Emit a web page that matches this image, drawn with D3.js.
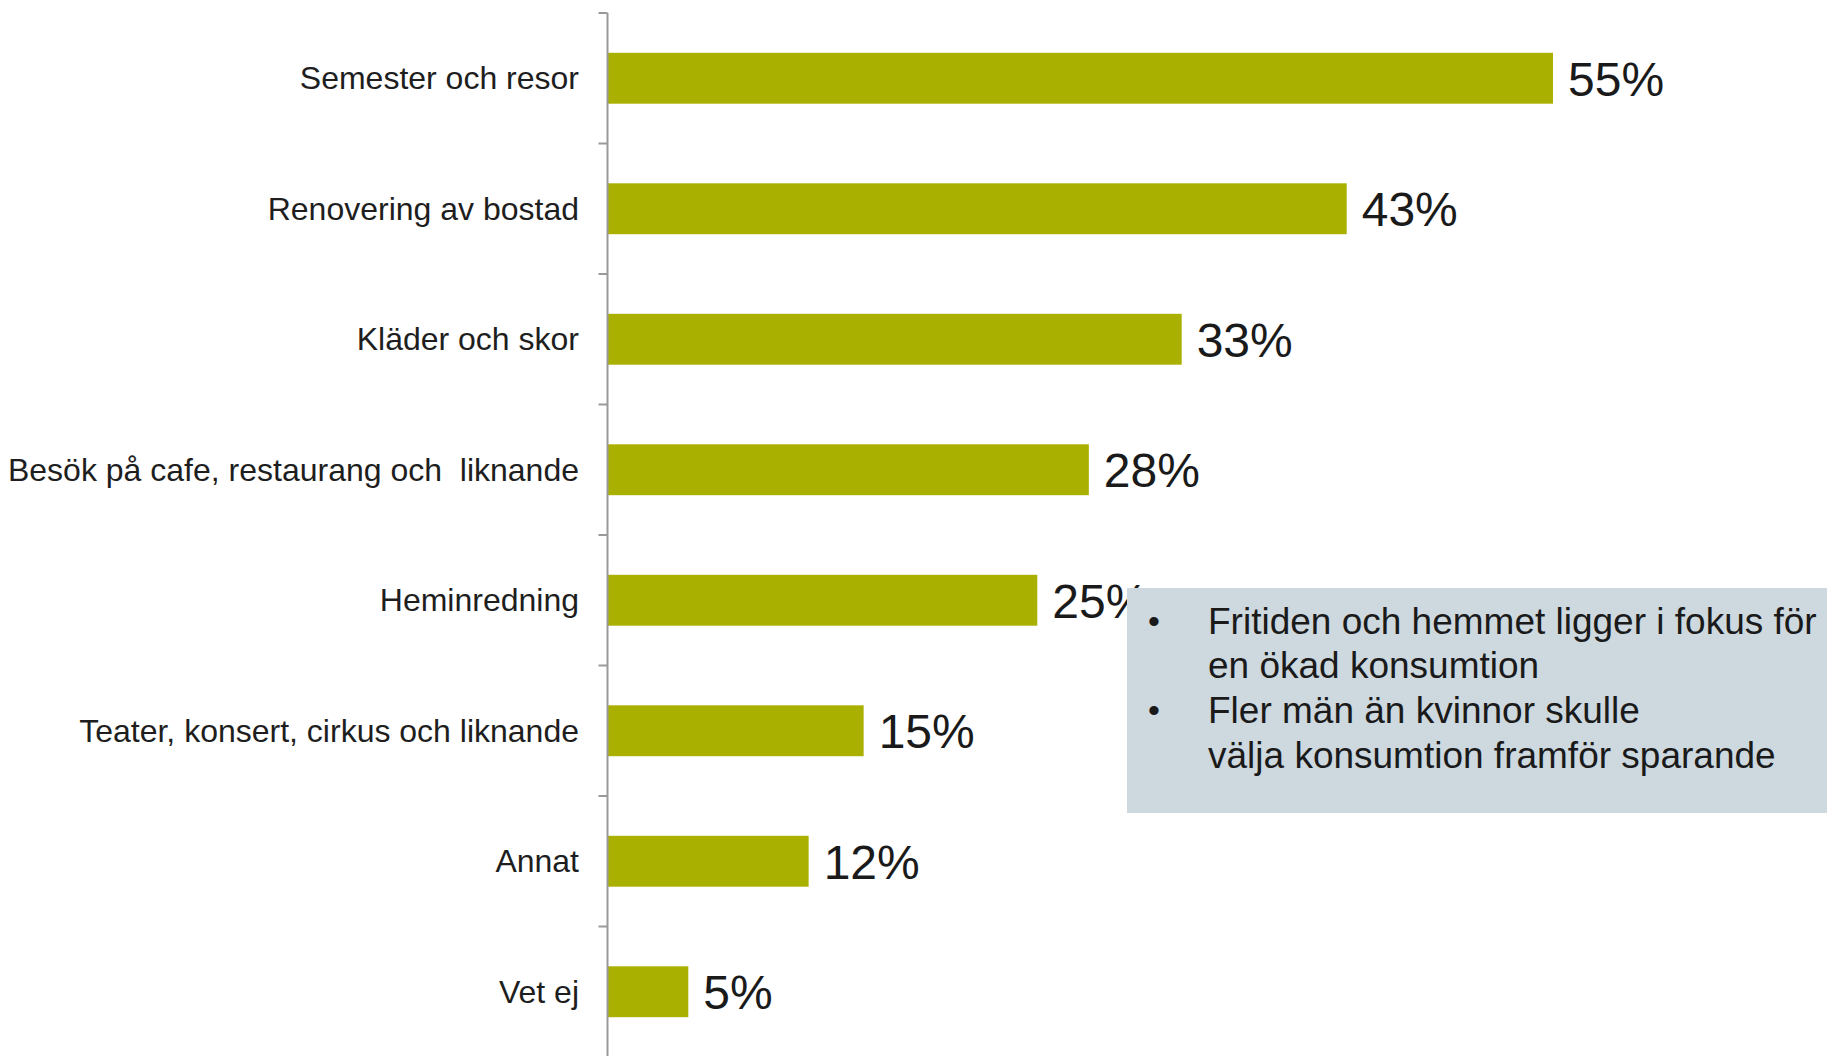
<!DOCTYPE html>
<html><head><meta charset="utf-8">
<script src="https://cdn.jsdelivr.net/npm/d3@7"></script>
<style>html,body{margin:0;padding:0;background:#fff;}svg{display:block;}</style>
</head><body>
<svg id="chart" width="1827" height="1056"></svg>
<script>
const categories = ["Semester och resor","Renovering av bostad","Kläder och skor","Besök på cafe, restaurang och  liknande","Heminredning","Teater, konsert, cirkus och liknande","Annat","Vet ej"];
const values = [55,43,33.4,28,25,14.9,11.7,4.7];
const valueLabels = ["55%","43%","33%","28%","25%","15%","12%","5%"];
const noteLines = [
  {bullet:true, text:"Fritiden och hemmet ligger i fokus för"},
  {bullet:false, text:"en ökad konsumtion"},
  {bullet:true, text:"Fler män än kvinnor skulle"},
  {bullet:false, text:"välja konsumtion framför sparande"}
];

const svg = d3.select("#chart");
const font = "'Liberation Sans', Arial, sans-serif";
const axisX = 607.5;

const x = d3.scaleLinear().domain([0,55]).range([axisX, 1553]);
const y = d3.scaleBand().domain(categories).range([13, 13+8*130.5]).paddingInner(0.61).paddingOuter(0.305);
const step = y.step();
const bandStart = d => y(d) - step*y.paddingInner()/2;

svg.selectAll("rect.bar").data(categories).join("rect")
  .attr("class","bar")
  .attr("x", x(0))
  .attr("y", d => y(d))
  .attr("width", (d,i) => x(values[i]) - x(0))
  .attr("height", y.bandwidth())
  .attr("fill", "#aab000");

svg.append("line").attr("x1",axisX).attr("x2",axisX).attr("y1",13).attr("y2",1056)
  .attr("stroke","#999").attr("stroke-width",2);
svg.selectAll("line.tick").data(categories).join("line")
  .attr("class","tick")
  .attr("x1",axisX-9).attr("x2",axisX)
  .attr("y1", d => bandStart(d)).attr("y2", d => bandStart(d))
  .attr("stroke","#999").attr("stroke-width",2);

svg.selectAll("text.cat").data(categories).join("text")
  .attr("class","cat")
  .attr("x", 579).attr("y", d => y(d) + y.bandwidth()/2)
  .attr("text-anchor","end").attr("dominant-baseline","central")
  .attr("font-family",font).attr("font-size",32).attr("fill","#1e1e1e")
  .style("white-space","pre")
  .text(d => d);

svg.selectAll("text.val").data(categories).join("text")
  .attr("class","val")
  .attr("x", (d,i) => x(values[i]) + 15).attr("y", d => y(d) + y.bandwidth()/2 + 1)
  .attr("dominant-baseline","central")
  .attr("font-family",font).attr("font-size",48).attr("fill","#1a1a1a")
  .text((d,i) => valueLabels[i]);

const box = svg.append("g");
box.append("rect").attr("x",1127).attr("y",588).attr("width",1827-1127).attr("height",225)
  .attr("fill","#cdd8df");
noteLines.forEach((l,i) => {
  const cy = 621 + i*44.7;
  if (l.bullet) box.append("text").attr("x",1148).attr("y",cy).attr("dominant-baseline","central")
    .attr("font-family",font).attr("font-size",34).attr("fill","#1a1a1a").text("•");
  box.append("text").attr("x",1208).attr("y",cy).attr("dominant-baseline","central")
    .attr("font-family",font).attr("font-size",37).attr("fill","#1a1a1a").text(l.text);
});
</script>
</body></html>
